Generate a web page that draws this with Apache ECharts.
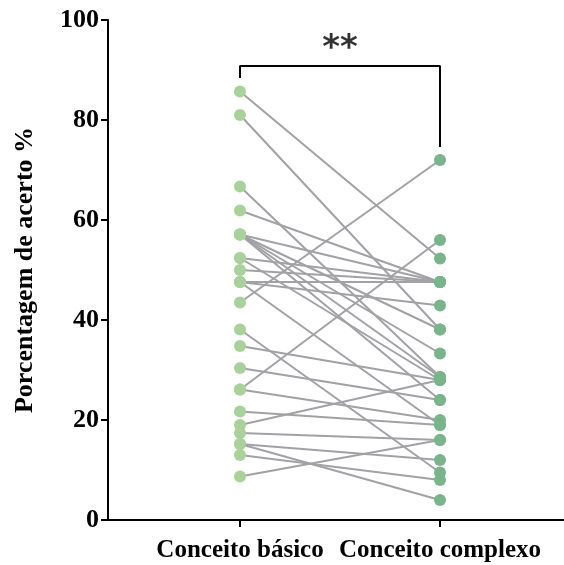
<!DOCTYPE html>
<html>
<head>
<meta charset="utf-8">
<script src="https://cdn.jsdelivr.net/npm/echarts@6/dist/echarts.min.js"></script>
<style>
  html, body { margin: 0; padding: 0; background: #fff; }
  #chart { width: 564px; height: 565px; }
</style>
</head>
<body>
<div id="chart"></div>
<script>
// Paired scores: each participant has one basic-concept and one complex-concept score
const categories = ['Conceito básico', 'Conceito complexo'];
const basicScores   = [85.7, 81.0, 66.7, 61.9, 57.1, 57.1, 57.1, 57.1, 57.1, 52.4, 52.4, 50.0, 47.6, 47.6,
                       47.6, 43.5, 38.1, 34.8, 30.4, 26.1, 26.1, 21.7, 19.0, 17.4, 15.2, 15.2, 13.0, 8.7];
const complexScores = [52.3, 38.1, 28.6, 47.6, 47.6, 38.1, 33.3, 28.6, 24.0, 47.6, 28.0, 47.6, 47.6, 42.9,
                       19.0, 72.0, 9.5, 28.0, 24.0, 56.0, 20.0, 19.0, 28.0, 16.0, 12.0, 4.0, 8.0, 16.0];
const yTicks = [0, 20, 40, 60, 80, 100];
const significance = '**';

const serif = '"Liberation Serif", "Times New Roman", serif';
const lineGray = '#a2a2a6';
const basicGreen = '#a9d29b';
const complexGreen = '#79b58a';

const pairSeries = basicScores.map((b, i) => ({
  type: 'line',
  data: [[1, b], [2, complexScores[i]]],
  showSymbol: false,
  symbol: 'none',
  lineStyle: { color: lineGray, width: 2 },
  silent: true,
  z: 2
}));

const chart = echarts.init(document.getElementById('chart'), null, { renderer: 'canvas' });
chart.setOption({
  animation: false,
  backgroundColor: '#fff',
  grid: { left: 108, right: 0, top: 20, bottom: 45, containLabel: false },
  xAxis: {
    type: 'value',
    min: 0.34,
    max: 2.62,
    splitLine: { show: false },
    axisLine: { show: true, lineStyle: { color: '#000', width: 2 } },
    axisTick: { show: true, customValues: [1, 2], length: 7, lineStyle: { color: '#000', width: 2 } },
    axisLabel: {
      show: true,
      customValues: [1, 2],
      formatter: v => categories[Math.round(v) - 1],
      color: '#000',
      fontFamily: serif,
      fontWeight: 'bold',
      fontSize: 25,
      margin: 18
    }
  },
  yAxis: {
    type: 'value',
    min: 0,
    max: 100,
    interval: 20,
    name: 'Porcentagem de acerto %',
    nameLocation: 'middle',
    nameGap: 70,
    nameTextStyle: { color: '#000', fontFamily: serif, fontWeight: 'bold', fontSize: 26 },
    splitLine: { show: false },
    axisLine: { show: true, lineStyle: { color: '#000', width: 2 } },
    axisTick: { show: true, length: 7, lineStyle: { color: '#000', width: 2 } },
    axisLabel: {
      color: '#000',
      fontFamily: serif,
      fontWeight: 'bold',
      fontSize: 26,
      margin: 9,
      customValues: yTicks
    }
  },
  series: [
    ...pairSeries,
    {
      type: 'scatter',
      data: basicScores.map(v => [1, v]),
      symbolSize: 12,
      itemStyle: { color: basicGreen, opacity: 1 },
      z: 5
    },
    {
      type: 'scatter',
      data: complexScores.map(v => [2, v]),
      symbolSize: 12,
      itemStyle: { color: complexGreen, opacity: 1 },
      z: 5
    },
    {
      // significance bracket between the two groups
      type: 'line',
      data: [[1, 88.4], [1, 90.8], [2, 90.8], [2, 74.6]],
      symbol: 'none',
      lineStyle: { color: '#000', width: 2 },
      silent: true,
      z: 3
    },
    {
      type: 'scatter',
      data: [[1.5, 94.2]],
      symbolSize: 0,
      label: {
        show: true,
        position: 'inside',
        formatter: significance,
        color: '#000',
        fontFamily: '"DejaVu Sans", sans-serif',
        fontWeight: 'bold',
        fontSize: 34
      },
      silent: true,
      z: 6
    }
  ]
});
</script>
</body>
</html>
